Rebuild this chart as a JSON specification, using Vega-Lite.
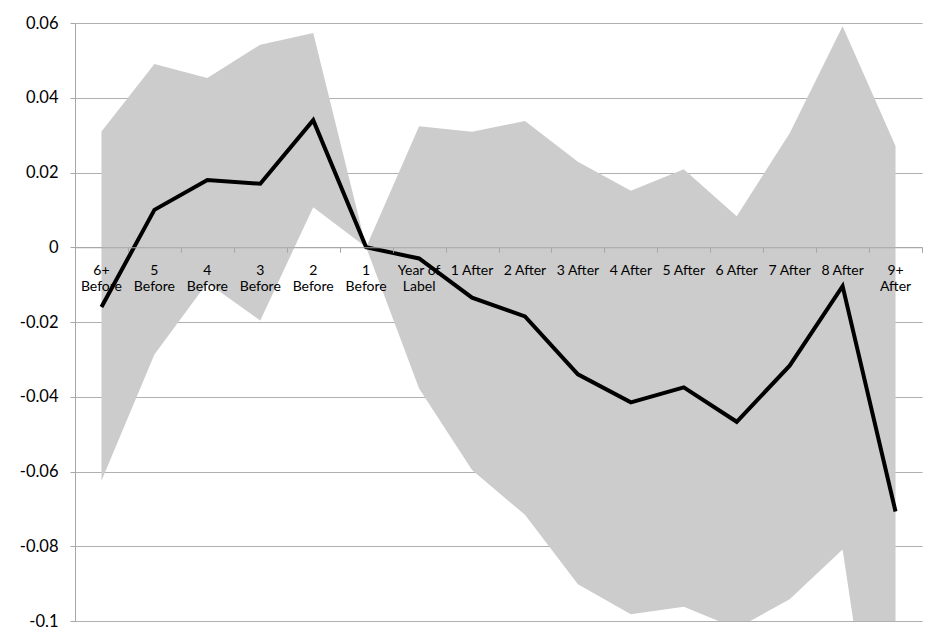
{
  "$schema": "https://vega.github.io/schema/vega-lite/v6.json",
  "width": 847,
  "height": 598,
  "autosize": "none",
  "padding": {"left": 75, "top": 23, "right": 8, "bottom": 16},
  "background": "white",
  "config": {"view": {"stroke": null}},
  "data": {
    "values": [
      {"cat": "6+ Before", "label": "6+\nBefore", "est": -0.016, "lo": -0.0625, "hi": 0.031},
      {"cat": "5 Before", "label": "5\nBefore", "est": 0.010, "lo": -0.0287, "hi": 0.049},
      {"cat": "4 Before", "label": "4\nBefore", "est": 0.018, "lo": -0.0095, "hi": 0.0453},
      {"cat": "3 Before", "label": "3\nBefore", "est": 0.017, "lo": -0.0196, "hi": 0.0542},
      {"cat": "2 Before", "label": "2\nBefore", "est": 0.034, "lo": 0.0107, "hi": 0.0573},
      {"cat": "1 Before", "label": "1\nBefore", "est": 0.0, "lo": 0.0, "hi": 0.0},
      {"cat": "Year of Label", "label": "Year of\nLabel", "est": -0.003, "lo": -0.0378, "hi": 0.0324},
      {"cat": "1 After", "label": "1 After", "est": -0.0135, "lo": -0.0596, "hi": 0.0309},
      {"cat": "2 After", "label": "2 After", "est": -0.0185, "lo": -0.0716, "hi": 0.0338},
      {"cat": "3 After", "label": "3 After", "est": -0.034, "lo": -0.0902, "hi": 0.0229},
      {"cat": "4 After", "label": "4 After", "est": -0.0415, "lo": -0.0982, "hi": 0.0151},
      {"cat": "5 After", "label": "5 After", "est": -0.0375, "lo": -0.0962, "hi": 0.0209},
      {"cat": "6 After", "label": "6 After", "est": -0.0467, "lo": -0.102, "hi": 0.0083},
      {"cat": "7 After", "label": "7 After", "est": -0.0317, "lo": -0.0942, "hi": 0.0305},
      {"cat": "8 After", "label": "8 After", "est": -0.0104, "lo": -0.0809, "hi": 0.0591},
      {"cat": "9+ After", "label": "9+\nAfter", "est": -0.0707, "lo": -0.175, "hi": 0.0271}
    ]
  },
  "layer": [
    {
      "mark": {"type": "area", "color": "#CCCCCC", "opacity": 1, "clip": true},
      "encoding": {
        "x": {
          "field": "cat", "type": "nominal", "sort": null, "bandPosition": 0.5,
          "scale": {"type": "band", "paddingInner": 0, "paddingOuter": 0},
          "axis": {
            "orient": "bottom", "offset": -373.75, "labels": false, "ticks": true,
            "tickBand": "extent", "tickSize": 5, "tickColor": "#A6A6A6", "tickWidth": 1,
            "domain": true, "domainColor": "#A6A6A6", "domainWidth": 1,
            "grid": false, "title": null, "zindex": 1
          }
        },
        "y": {
          "field": "lo", "type": "quantitative",
          "scale": {"domain": [-0.1, 0.06], "nice": false, "zero": false},
          "axis": {
            "values": [-0.1, -0.08, -0.06, -0.04, -0.02, 0, 0.02, 0.04, 0.06],
            "labelExpr": "replace(format(datum.value, '~g'), '\u2212', '-')",
            "grid": true, "gridColor": "#B0B0B0", "gridWidth": 1,
            "domain": true, "domainColor": "#A6A6A6", "domainWidth": 1,
            "ticks": true, "tickSize": 5, "tickColor": "#A6A6A6",
            "labelFont": "Lato", "labelFontSize": 16.5, "labelColor": "#000000",
            "labelPadding": 12, "title": null
          }
        },
        "y2": {"field": "hi"}
      }
    },
    {
      "mark": {"type": "text", "baseline": "top", "align": "center", "dy": 17, "lineBreak": "\n", "lineHeight": 16, "font": "Lato", "fontSize": 14, "color": "#000000"},
      "encoding": {
        "x": {"field": "cat", "type": "nominal", "sort": null, "bandPosition": 0.5},
        "y": {"datum": 0, "type": "quantitative"},
        "text": {"field": "label"}
      }
    },
    {
      "mark": {"type": "line", "color": "#000000", "strokeWidth": 4, "clip": true},
      "encoding": {
        "x": {"field": "cat", "type": "nominal", "sort": null, "bandPosition": 0.5},
        "y": {"field": "est", "type": "quantitative"}
      }
    }
  ]
}
